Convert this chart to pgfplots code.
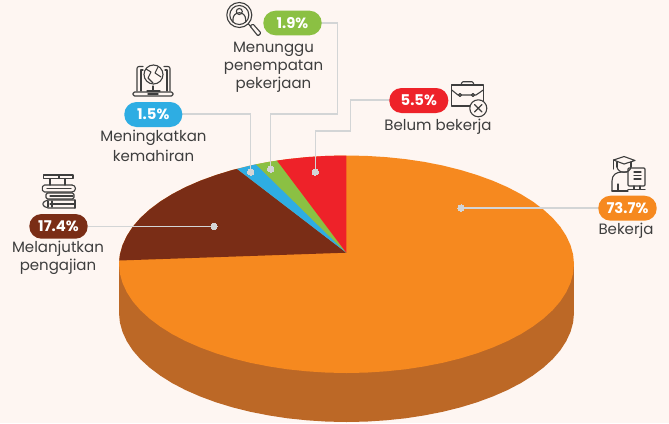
\documentclass[border=0pt]{standalone}
\usepackage{fontspec}
\setmainfont{Poppins}
\usepackage{pgfplots}
\usepackage{pgfplotstable}
\pgfplotsset{compat=1.18}
\definecolor{bg}{HTML}{FEF6F2}
\definecolor{cOrange}{HTML}{F6891F}
\definecolor{cSide}{HTML}{BC6826}
\definecolor{cMaroon}{HTML}{7A2D16}
\definecolor{cBlue}{HTML}{2EADE3}
\definecolor{cGreen}{HTML}{8BC043}
\definecolor{cRed}{HTML}{EE2229}
\definecolor{cLine}{HTML}{D3D5D6}
\definecolor{cTxt}{HTML}{3E3E3E}
\pgfplotstableread{
x y
346.5 155.5
366.3 155.9
386.0 157.1
405.4 159.1
424.3 161.9
442.6 165.5
460.3 169.9
477.0 175.0
492.7 180.7
507.4 187.1
520.8 194.1
532.9 201.6
543.5 209.6
552.7 218.0
560.3 226.8
566.2 235.9
570.5 245.2
573.1 254.5
574 264
573.1 273.5
570.5 282.9
566.2 292.2
560.3 301.3
552.7 310.1
543.5 318.5
532.9 326.5
520.8 334.1
507.4 341.1
492.7 347.5
477.0 353.3
460.3 358.4
442.6 362.8
424.3 366.4
405.4 369.3
386.0 371.3
366.3 372.6
346.5 373
326.7 372.6
307.0 371.3
287.6 369.3
268.7 366.4
250.4 362.8
232.7 358.4
216.0 353.3
200.3 347.5
185.6 341.1
172.2 334.1
160.1 326.5
149.5 318.5
140.3 310.1
132.7 301.3
126.8 292.2
122.5 282.9
119.9 273.5
119 264
119.9 254.5
122.5 245.2
126.8 235.9
132.7 226.8
140.3 218.0
149.5 209.6
160.1 201.6
172.2 194.1
185.6 187.1
200.3 180.7
216 175.0
232.7 169.9
250.4 165.5
268.7 161.9
287.6 159.1
307 157.1
326.7 155.9
}\rim
\newcommand{\pill}[6]{%
 \fill[#5,rounded corners=12.2pt] (#1,#2) rectangle (#3,#4);
 \node[text=white,font=\fontsize{14.8}{15}\selectfont\bfseries,inner sep=0pt] at ({(#1+#3)/2},{(#2+#4)/2}) {#6};}
\newcommand{\lbl}[3]{\node[text=cTxt,font=\fontsize{15}{18}\selectfont,inner sep=0pt,anchor=center] at (#1,#2) {#3};}
\begin{document}
\begin{tikzpicture}
\begin{axis}[
  scale only axis, width=669pt, height=423pt,
  xmin=0, xmax=669, ymin=0, ymax=423, y dir=reverse,
  hide axis, enlargelimits=false, clip=true]
\addplot[fill=bg,draw=none] coordinates {(0,0)(669,0)(669,423)(0,423)} --cycle;
% side of the pie
\addplot[fill=cSide,draw=none] table[x=x,y expr=\thisrow{y}+49] {\rim} --cycle;
\addplot[fill=cSide,draw=none] coordinates {(119,264)(574,264)(574,313)(119,313)} --cycle;
% top face: largest sector 73.7
\addplot[fill=cOrange,draw=none] table[x=x,y=y] {\rim} --cycle;
% 17.4
\addplot[fill=cMaroon,draw=none] coordinates {(346.3,252.7)(119.2,260.5)(119.9,254.5)(122.5,245.2)(126.8,235.9)(132.7,226.8)(140.3,218)(149.5,209.6)(160.1,201.6)(172.2,194.1)(185.6,187.1)(200.3,180.7)(216,175)(232.7,169.9)(237,168.9)} --cycle;
% 1.5
\addplot[fill=cBlue,draw=none] coordinates {(346.3,252.7)(237,168.9)(246.5,166.5)(256,164.3)} --cycle;
% 1.9
\addplot[fill=cGreen,draw=none] coordinates {(346.3,252.7)(256,164.3)(266.5,162.3)(277,160.6)} --cycle;
% 5.5
\addplot[fill=cRed,draw=none] coordinates {(346.3,252.7)(277,160.6)(287.6,159.1)(307,157.1)(326.7,155.9)(346.3,155.5)} --cycle;
% leaders
\addplot[cLine,line width=1.3pt] coordinates {(88,226.3)(214,226.3)};
\addplot[cLine,line width=1.3pt] coordinates {(182,114)(250.7,114)(250.7,172)};
\addplot[cLine,line width=1.3pt] coordinates {(321,23)(337.5,23)(337.5,114)(270.7,114)(270.7,169)};
\addplot[cLine,line width=1.3pt] coordinates {(390,100)(350.7,100)(350.7,131)(315.3,131)(315.3,172)};
\addplot[cLine,line width=1.3pt] coordinates {(599,208)(461,208)};
\addplot[only marks,mark=*,mark size=3.2pt,draw=cLine,fill=cLine,mark options={draw=cLine,fill=cLine,line width=0pt}] coordinates {(214,226.3)(250.7,172)(270.7,169)(315.3,172)(461,208)};
% pills
\pill{29.3}{214}{87.7}{238.7}{cMaroon}{17.4\%}
\pill{124.3}{102}{182.3}{127}{cBlue}{1.5\%}
\pill{263.3}{10.7}{321.7}{35.3}{cGreen}{1.9\%}
\pill{389.3}{88}{448.3}{113}{cRed}{5.5\%}
\pill{598.3}{195.7}{656.7}{220.7}{cOrange}{73.7\%}
% labels
\lbl{58}{249}{Melanjutkan}
\lbl{58}{267}{pengajian}
\lbl{153.5}{138}{Meningkatkan}
\lbl{153.5}{156}{kemahiran}
\lbl{273.5}{49}{Menunggu}
\lbl{273.5}{67}{penempatan}
\lbl{273.5}{85}{pekerjaan}
\lbl{438}{127}{Belum bekerja}
\lbl{626}{231}{Bekerja}
% icons
\begin{scope}[draw=cTxt,line width=1.1pt,line join=round,line cap=round]
% books
\draw (43.5,175) rectangle (73,178.5);
\draw (50,178.5) -- (50,185) (65,178.5) -- (65,185) (59,175) -- (59,178.5);
\draw[rounded corners=1.5pt] (72,185) -- (43,185) -- (42,188.5) -- (43,192) -- (72,192);
\draw (47,188.5) -- (71,188.5);
\draw (72,185) arc[start angle=90,end angle=-90,radius=3.5pt];
\draw[rounded corners=1.5pt] (46,193) rectangle (74,199);
\draw (50,196) -- (73,196);
\draw[rounded corners=2pt] (75,200) -- (46,200) -- (42,204) -- (46,208) -- (75,208);
\draw (75,200) -- (75,208) (50,204) -- (74,204) (48,201) -- (48,207) (52,201) -- (52,207);
% laptop globe
\draw[rounded corners=2pt] (137,91) -- (137,66.5) -- (143,66.5) (164,66.5) -- (170,66.5) -- (170,91);
\draw[rounded corners=1.5pt] (133,92) rectangle (173,96);
\draw (141,91) -- (141,70) -- (143,70) (165,70) -- (167,70) -- (167,91);
\draw (153.5,74.5) circle[radius=9.5pt];
\draw (146,69) -- (151,72) -- (148,78) -- (153,83) (158,67) -- (155,73) -- (161,77);
\draw (153,86) -- (153,90) (147,91) -- (160,91);
\draw[line width=1.4pt] (148,93.8) -- (158,93.8);
% search person
\draw (239.3,15) circle[radius=12.5pt];
\draw (239.3,15) circle[radius=9.5pt];
\draw (239.3,11.5) circle[radius=3pt];
\draw (233,22) -- (233,19) arc[start angle=180,end angle=0,radius=6.3pt] -- (245.6,22);
\draw (248.5,24) -- (251,27);
\draw[rounded corners=1pt] (250,26) -- (253,24) -- (261,33) -- (258,36) -- cycle;
% briefcase
\draw (451.7,85) rectangle (483.3,106);
\draw[rounded corners=1.5pt] (461.5,85) -- (461.5,81.7) -- (473.5,81.7) -- (473.5,85);
\draw (451.7,90) -- (458,95) -- (476,95) -- (483.3,90);
\draw[fill=bg] (460,95) circle[radius=1.5pt] (473,95) circle[radius=1.5pt];
\draw[fill=bg] (478.3,108.3) circle[radius=8.5pt];
\draw (474.5,104.5) -- (482,112) (482,104.5) -- (474.5,112);
% graduate with monitor
\draw (613.5,160) -- (624,156.5) -- (635,160.5) -- (624,164) -- cycle;
\draw (617,162) -- (617,167) (631,162) -- (631,167);
\draw (617,167) .. controls (618,174) and (630,174) .. (631,167);
\draw (613.5,160) -- (613.5,169);
\draw (612,191) -- (612,181) .. controls (612,175) and (616,172) .. (622,172) -- (627,172);
\draw (618,191) -- (618,184) (612,191) -- (628,191);
\draw[rounded corners=1pt] (628,168) rectangle (645,186);
\draw (634,172) -- (641,172) (634,175.5) -- (641,175.5) (634,179) -- (641,179);
\draw (634,186) -- (634,189) (640,186) -- (640,189) (628,189.5) -- (645,189.5);
\end{scope}
\end{axis}
\end{tikzpicture}
\end{document}
